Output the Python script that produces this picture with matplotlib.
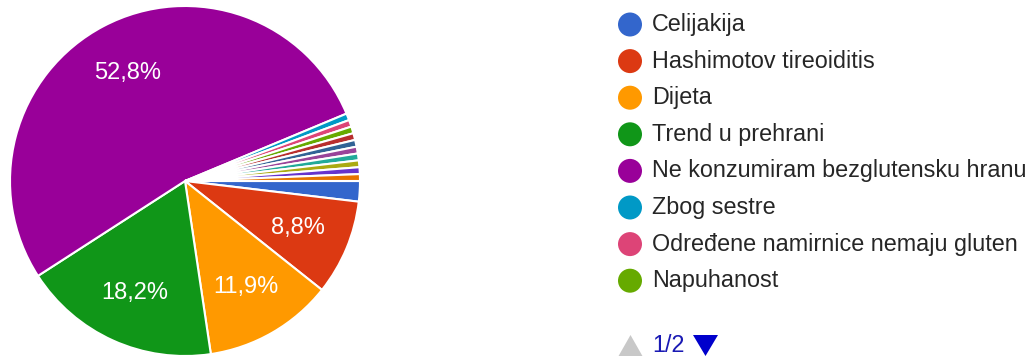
import matplotlib
matplotlib.use("Agg")
import matplotlib.pyplot as plt
from matplotlib.patches import Circle, Polygon

plt.rcParams["font.family"] = ["Liberation Sans", "DejaVu Sans"]

# Responses per answer (page 1 of the legend lists the first eight)
categories = [
    "Celijakija",
    "Hashimotov tireoiditis",
    "Dijeta",
    "Trend u prehrani",
    "Ne konzumiram bezglutensku hranu",
    "Zbog sestre",
    "Određene namirnice nemaju gluten",
    "Napuhanost",
]
counts = [3, 14, 19, 29, 84, 1, 1, 1]
# Remaining single answers listed on the second legend page
extra_counts = [1, 1, 1, 1, 1, 1, 1]

colors = [
    "#3366cc", "#dc3912", "#ff9900", "#109618", "#990099",
    "#0099c6", "#dd4477", "#66aa00", "#b82e2e", "#316395",
    "#994499", "#22aa99", "#aaaa11", "#6633cc", "#e67300",
]

W, H = 1029, 356
fig = plt.figure(figsize=(W / 100, H / 100), dpi=100)
ax = fig.add_axes([0, 0, 1, 1])

values = counts + extra_counts


def pct_label(p):
    if p < 5:
        return ""
    return f"{p:.1f}".replace(".", ",") + "%"


wedges, texts, autotexts = ax.pie(
    values,
    colors=colors[: len(values)],
    center=(185, H - 181),
    radius=175,
    startangle=0,
    counterclock=False,
    autopct=pct_label,
    pctdistance=0.70,
    wedgeprops=dict(edgecolor="white", linewidth=1.5),
    textprops=dict(color="white", fontsize=17),
    frame=True,
)
ax.set_xlim(0, W)
ax.set_ylim(0, H)
ax.set_aspect("equal")
ax.axis("off")

# Legend, page 1
x_dot, x_txt = 630, 652
y0, step = 24.5, 36.6
for i, (name, col) in enumerate(zip(categories, colors)):
    y = H - (y0 + i * step)
    ax.add_patch(Circle((x_dot, y), 12, color=col, lw=0))
    ax.text(x_txt, y, name, fontsize=16.8, color="#262626",
            va="center", ha="left")

# Pager
top = H - 335
ax.add_patch(Polygon([(618, top - 22), (643, top - 22), (630.5, top)],
                     closed=True, color="#c8c8c8", lw=0))
ax.text(652, top - 11, "1/2", fontsize=16.8, color="#1a1ab4",
        va="center", ha="left")
ax.add_patch(Polygon([(693, top), (718, top), (705.5, top - 21)],
                     closed=True, color="#0000cc", lw=0))

fig.savefig("out.png", dpi=100, facecolor="white")
